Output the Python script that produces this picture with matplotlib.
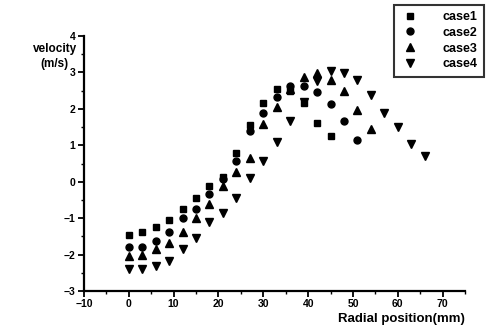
import numpy as np
import matplotlib.pyplot as plt
from matplotlib.ticker import MultipleLocator

plt.rcParams['font.family'] = ['Liberation Sans', 'DejaVu Sans']
plt.rcParams['font.weight'] = 'bold'

# radial positions (mm), step 3
x1 = [0, 3, 6, 9, 12, 15, 18, 21, 24, 27, 30, 33, 36, 39, 42, 45]
case1 = [-1.45, -1.38, -1.24, -1.04, -0.75, -0.46, -0.13, 0.12, 0.80, 1.55,
         2.16, 2.54, 2.48, 2.16, 1.61, 1.26]

x2 = [0, 3, 6, 9, 12, 15, 18, 21, 24, 27, 30, 33, 36, 39, 42, 45, 48, 51]
case2 = [-1.78, -1.78, -1.62, -1.37, -1.01, -0.75, -0.33, 0.07, 0.58, 1.40,
         1.90, 2.34, 2.64, 2.63, 2.46, 2.13, 1.67, 1.15]

x3 = [0, 3, 6, 9, 12, 15, 18, 21, 24, 27, 30, 33, 36, 39, 42, 45, 48, 51, 54]
case3 = [-2.03, -2.00, -1.86, -1.69, -1.38, -1.01, -0.60, -0.13, 0.27, 0.66,
         1.58, 2.04, 2.55, 2.87, 2.98, 2.80, 2.49, 1.97, 1.45]

x4 = [0, 3, 6, 9, 12, 15, 18, 21, 24, 27, 30, 33, 36, 39, 42, 45, 48, 51,
      54, 57, 60, 63, 66]
case4 = [-2.39, -2.40, -2.31, -2.18, -1.85, -1.54, -1.12, -0.87, -0.45, 0.09,
         0.58, 1.08, 1.67, 2.20, 2.76, 3.05, 2.98, 2.80, 2.38, 1.88, 1.50,
         1.04, 0.72]

fig = plt.figure(figsize=(4.88, 3.31), dpi=100)
ax = fig.add_axes([0.172, 0.121, 0.781, 0.770])

ms = 5.5
ax.plot(x1, case1, 's', color='black', markersize=ms - 0.7, label='case1')
ax.plot(x2, case2, 'o', color='black', markersize=ms - 0.5, label='case2')
ax.plot(x3, case3, '^', color='black', markersize=ms, label='case3')
ax.plot(x4, case4, 'v', color='black', markersize=ms, label='case4')

ax.set_xlim(-10, 75)
ax.set_ylim(-3, 4)
ax.xaxis.set_major_locator(MultipleLocator(10))
ax.xaxis.set_minor_locator(MultipleLocator(5))
ax.yaxis.set_major_locator(MultipleLocator(1))
ax.yaxis.set_minor_locator(MultipleLocator(0.5))
ax.spines['top'].set_visible(False)
ax.spines['right'].set_visible(False)
ax.spines['left'].set_linewidth(1.6)
ax.spines['bottom'].set_linewidth(1.6)
ax.tick_params(which='major', direction='out', length=4, width=1.3,
               labelsize=7.5, pad=2)
ax.tick_params(which='minor', direction='out', length=2, width=1)
for lab in ax.get_xticklabels() + ax.get_yticklabels():
    lab.set_fontweight('bold')

ax.set_xlabel('Radial position(mm)', fontsize=9.5, fontweight='bold',
              ha='right')
ax.xaxis.set_label_coords(1.0, -0.085)
fig.text(0.112, 0.83, 'velocity\n(m/s)', ha='center', va='center',
         fontsize=8.5, fontweight='bold', linespacing=1.3)

leg = fig.legend(loc='upper right', bbox_to_anchor=(0.997, 0.993),
                 prop={'size': 9, 'weight': 'bold'}, frameon=True,
                 fancybox=False, edgecolor='black', handletextpad=1.8,
                 borderpad=0.5, labelspacing=0.3, handlelength=1.6,
                 borderaxespad=0.2)
leg.get_frame().set_linewidth(1.5)

fig.savefig('out.png', dpi=100)
